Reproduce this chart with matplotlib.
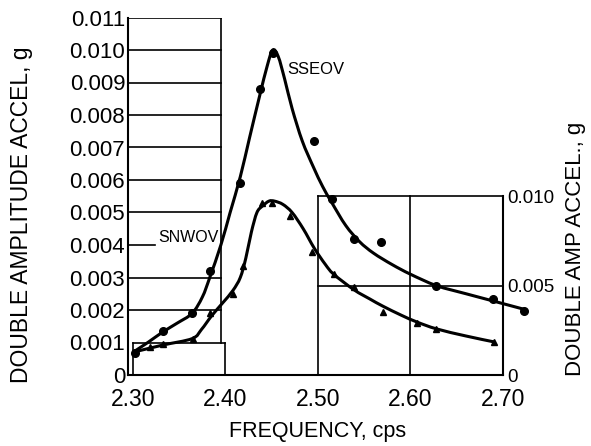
import numpy as np
import matplotlib.pyplot as plt
from matplotlib.path import Path
from matplotlib.patches import PathPatch

plt.rcParams['font.family'] = ['Liberation Sans', 'DejaVu Sans']

# measured points, SSEOV (circles)
sseov_f = [2.302, 2.332, 2.364, 2.383, 2.416, 2.437, 2.451, 2.496, 2.515, 2.539, 2.568, 2.628, 2.689, 2.723]
sseov_a = [0.00068, 0.00135, 0.0019, 0.0032, 0.0059, 0.0088, 0.0099, 0.0072, 0.0054, 0.0042, 0.0041, 0.00274, 0.00234, 0.00197]

# measured points, SNWOV (triangles)
snwov_f = [2.318, 2.332, 2.365, 2.383, 2.408, 2.419, 2.439, 2.450, 2.470, 2.494, 2.517, 2.539, 2.570, 2.607, 2.628, 2.690]
snwov_a = [0.00085, 0.00095, 0.0011, 0.0019, 0.0025, 0.00335, 0.0053, 0.0053, 0.0049, 0.0038, 0.0031, 0.0027, 0.00194, 0.0016, 0.00142, 0.00102]

# faired curves
sseov_curve_f = [2.300, 2.316, 2.332, 2.348, 2.364, 2.375, 2.383, 2.395, 2.405, 2.416, 2.426, 2.437,
                 2.445, 2.451, 2.457, 2.464, 2.472, 2.483, 2.495, 2.505, 2.515, 2.530, 2.545,
                 2.560, 2.580, 2.600, 2.628, 2.660, 2.689, 2.723]
sseov_curve_a = [0.0007, 0.0010, 0.00132, 0.0016, 0.0019, 0.0024, 0.0030, 0.0040, 0.0050, 0.0061, 0.0073, 0.0086,
                 0.0095, 0.0100, 0.0098, 0.0091, 0.0082, 0.0072, 0.0064, 0.0058, 0.0053, 0.0046, 0.0041,
                 0.00375, 0.0034, 0.0031, 0.00275, 0.0025, 0.00228, 0.00202]

snwov_curve_f = [2.300, 2.332, 2.364, 2.374, 2.385, 2.397, 2.408, 2.416, 2.422, 2.428, 2.434, 2.440,
                 2.447, 2.453, 2.462, 2.472, 2.484, 2.496, 2.508, 2.517, 2.539, 2.556, 2.570,
                 2.590, 2.607, 2.628, 2.660, 2.690]
snwov_curve_a = [0.0007, 0.00092, 0.00112, 0.0014, 0.00182, 0.00222, 0.0026, 0.0030, 0.0036, 0.0044, 0.0050, 0.0052,
                 0.00535, 0.00535, 0.00525, 0.0050, 0.0045, 0.0039, 0.0034, 0.0031, 0.00262, 0.00234, 0.00212,
                 0.00184, 0.00163, 0.00142, 0.0012, 0.00102]

freq_ticks = [2.30, 2.40, 2.50, 2.60, 2.70]
freq_labels = ['2.30', '2.40', '2.50', '2.60', '2.70']
left_ticks = [0, 0.001, 0.002, 0.003, 0.004, 0.005, 0.006, 0.007, 0.008, 0.009, 0.010, 0.011]
left_labels = ['0', '0.001', '0.002', '0.003', '0.004', '0.005', '0.006', '0.007', '0.008', '0.009', '0.010', '0.011']
right_ticks = [0, 0.005, 0.010]
right_labels = ['0', '0.005', '0.010']


def smooth_path(xs, ys):
    # Catmull-Rom through the traced points, drawn as cubic Bezier pieces
    p = np.column_stack([xs, ys])
    p = np.vstack([p[0], p, p[-1]])
    verts = [p[1]]
    codes = [Path.MOVETO]
    for i in range(1, len(p) - 2):
        c1 = p[i] + (p[i + 1] - p[i - 1]) / 6
        c2 = p[i + 1] - (p[i + 2] - p[i]) / 6
        verts += [c1, c2, p[i + 1]]
        codes += [Path.CURVE4] * 3
    return Path(verts, codes)


W, H = 591, 446
fig = plt.figure(figsize=(W / 100, H / 100), dpi=100)
ax = fig.add_axes([128 / W, 1 - 375 / H, 375 / W, 357.5 / H])
ax.set_xlim(2.2946, 2.70)
ax.set_ylim(0, 0.011)

for s in ['top', 'right']:
    ax.spines[s].set_visible(False)
for s in ['left', 'bottom']:
    ax.spines[s].set_linewidth(1.5)

ax.set_xticks(freq_ticks)
ax.set_xticklabels(freq_labels, fontsize=16.5)
ax.set_yticks(left_ticks)
ax.set_yticklabels(left_labels, fontsize=16)
ax.tick_params(axis='x', length=0, pad=9)
ax.tick_params(axis='y', length=0, pad=2)

# left grid box
lw = 1.2
for y in left_ticks[2:]:
    x1 = 2.324 if y == 0.004 else 2.395
    ax.plot([2.2946, x1], [y, y], color='black', lw=lw)
ax.plot([2.395, 2.395], [0.001, 0.011], color='black', lw=lw)
ax.plot([2.30, 2.40], [0.001, 0.001], color='black', lw=lw)
ax.plot([2.40, 2.40], [0, 0.001], color='black', lw=lw)
ax.plot([2.30, 2.30], [0, 0.001], color='black', lw=lw)

# right scale and box
ax2 = ax.twinx()
ax2.set_ylim(0, 0.011 * 1.82)
for s in ['top', 'left', 'bottom']:
    ax2.spines[s].set_visible(False)
ax2.spines['right'].set_bounds(0, 0.010)
ax2.spines['right'].set_linewidth(1.5)
ax2.set_yticks(right_ticks)
ax2.set_yticklabels(right_labels, fontsize=13.5)
ax2.tick_params(axis='y', length=0, pad=3)
ax2.plot([2.4995, 2.70], [0.010, 0.010], color='black', lw=lw)
ax2.plot([2.4995, 2.70], [0.005, 0.005], color='black', lw=lw)
ax2.plot([2.4995, 2.4995], [0, 0.010], color='black', lw=lw)
ax2.plot([2.5995, 2.5995], [0, 0.010], color='black', lw=lw)

# curves and points (drawn on top of the right box)
for cf, ca in [(sseov_curve_f, sseov_curve_a), (snwov_curve_f, snwov_curve_a)]:
    patch = PathPatch(smooth_path(cf, ca), fill=False, edgecolor='black', lw=2.2,
                      transform=ax.transData, clip_on=False, zorder=5)
    ax2.add_patch(patch)
ax2.plot(sseov_f, sseov_a, 'o', color='black', ms=5.5, clip_on=False, zorder=6,
         transform=ax.transData)
ax2.plot(snwov_f, snwov_a, '^', color='black', ms=5, clip_on=False, zorder=6,
         transform=ax.transData)

ax.text(2.4665, 0.0094, 'SSEOV', fontsize=12, va='center', ha='left')
ax.text(2.327, 0.00422, 'SNWOV', fontsize=11.5, va='center', ha='left')

fig.text(22 / W, 1 - 215 / H, 'DOUBLE AMPLITUDE ACCEL, g', rotation=90,
         fontsize=16.5, ha='center', va='center')
fig.text(575 / W, 1 - 249 / H, 'DOUBLE AMP ACCEL., g', rotation=90,
         fontsize=16, ha='center', va='center')
fig.text(318 / W, 1 - 432 / H, 'FREQUENCY, cps', fontsize=15.5, ha='center', va='center')

fig.savefig('out.png', dpi=100)
